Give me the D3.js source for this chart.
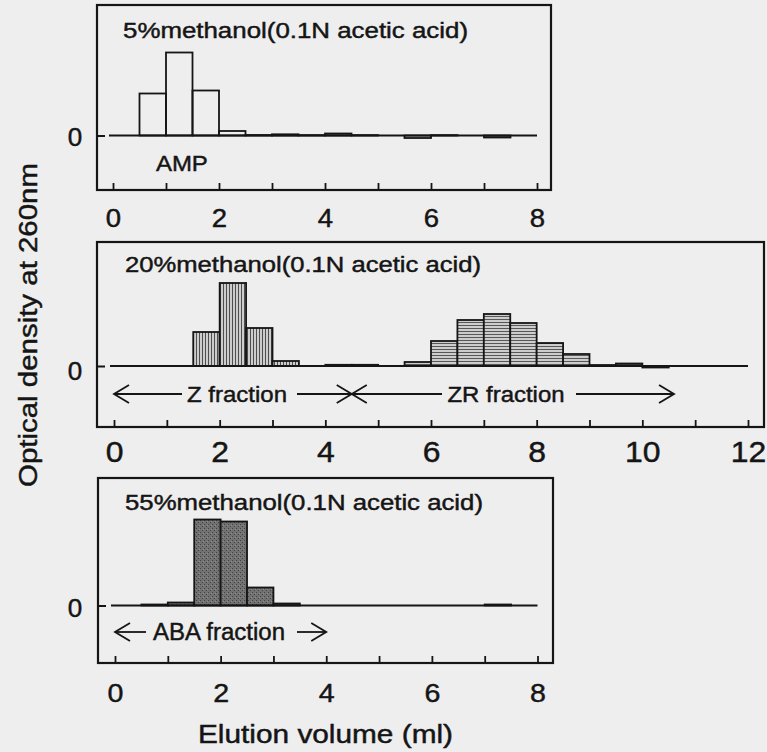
<!DOCTYPE html>
<html>
<head>
<meta charset="utf-8">
<script src="https://cdn.jsdelivr.net/npm/d3@7"></script>
<style>
  html, body { margin: 0; padding: 0; background: #eeeeee; }
  svg { display: block; }
  text { font-family: "Liberation Sans", Arial, Helvetica, sans-serif; fill: #151515;
         stroke: #151515; stroke-width: 0.45px; }
</style>
</head>
<body>
<script>
// ---------------- DATA ----------------
// Fractions are 0.5 ml each; values are optical density at 260 nm (relative units)
const binWidth = 0.5;
const bins8  = [0, 0.5, 1, 1.5, 2, 2.5, 3, 3.5, 4, 4.5, 5, 5.5, 6, 6.5, 7, 7.5];
const bins12 = [0, 0.5, 1, 1.5, 2, 2.5, 3, 3.5, 4, 4.5, 5, 5.5, 6, 6.5, 7, 7.5,
                8, 8.5, 9, 9.5, 10, 10.5, 11, 11.5];

const methanol5Values  = [0, 0.42, 0.83, 0.45, 0.045, 0.005, 0.012, 0.004,
                          0.02, 0.004, 0, -0.025, 0.004, 0, -0.02, 0];
const methanol20Values = [0, 0, 0, 0.34, 0.83, 0.38, 0.05, 0, 0.012, 0.012, 0, 0.04,
                          0.25, 0.46, 0.52, 0.43, 0.23, 0.12, 0.01, 0.025, -0.015, 0, 0, 0];
const methanol55Values = [0, 0.01, 0.03, 0.86, 0.84, 0.18, 0.02, 0,
                          0, 0, 0, 0, 0, 0, 0.01, 0];

const ticks8  = [0, 1, 2, 3, 4, 5, 6, 7, 8];
const ticks12 = [0, 1, 2, 3, 4, 5, 6, 7, 8, 9, 10, 11, 12];

const panelTitles = ["5%methanol(0.1N acetic acid)",
                     "20%methanol(0.1N acetic acid)",
                     "55%methanol(0.1N acetic acid)"];

// fraction annotations (ml ranges)
const zFraction   = [0, 4.5];
const zrFraction  = [4.5, 10.6];
const abaFraction = [0, 4];
const ampLabelAt  = 1.3;   // ml

const xAxisTitle = "Elution volume (ml)";
const yAxisTitle = "Optical density at 260nm";

// ---------------- LAYOUT ----------------
const W = 767, H = 752;
const svg = d3.select("body").append("svg").attr("width", W).attr("height", H);
svg.append("rect").attr("width", W).attr("height", H).attr("fill", "#eeeeee");

const defs = svg.append("defs");
// vertical hatch
const pv = defs.append("pattern").attr("id", "vhatch").attr("patternUnits", "userSpaceOnUse")
  .attr("width", 3).attr("height", 3);
pv.append("rect").attr("width", 3).attr("height", 3).attr("fill", "#cdcdcd");
pv.append("rect").attr("x", 1).attr("width", 1).attr("height", 3).attr("fill", "#4e4e4e");
// horizontal hatch
const ph = defs.append("pattern").attr("id", "hhatch").attr("patternUnits", "userSpaceOnUse")
  .attr("width", 3).attr("height", 3);
ph.append("rect").attr("width", 3).attr("height", 3).attr("fill", "#cdcdcd");
ph.append("rect").attr("y", 1).attr("width", 3).attr("height", 1).attr("fill", "#575757");
// dark stipple
const ps = defs.append("pattern").attr("id", "stipple").attr("patternUnits", "userSpaceOnUse")
  .attr("width", 4).attr("height", 4);
ps.append("rect").attr("width", 4).attr("height", 4).attr("fill", "#727272");
ps.append("rect").attr("x", 0).attr("y", 0).attr("width", 1).attr("height", 1).attr("fill", "#444");
ps.append("rect").attr("x", 2).attr("y", 2).attr("width", 1).attr("height", 1).attr("fill", "#444");
ps.append("rect").attr("x", 3).attr("y", 1).attr("width", 1).attr("height", 1).attr("fill", "#8e8e8e");

const panels = [
  { bins: bins8, values: methanol5Values, ticks: ticks8, title: panelTitles[0],
    frame: { x0: 97, x1: 551, y0: 5, y1: 190 }, xr: [113, 537], xd: [0, 8], yd: [-0.545, 1.305],
    titleX: 123, titleY: 38, titleLen: 345, titleSize: 22,
    labelY: 227, labelSize: 25, zeroY: 145, fill: () => "none" },
  { bins: bins12, values: methanol20Values, ticks: ticks12, title: panelTitles[1],
    frame: { x0: 97, x1: 764, y0: 242, y1: 427 }, xr: [114, 748], xd: [0, 12], yd: [-0.61, 1.24],
    titleX: 125, titleY: 272, titleLen: 356, titleSize: 22,
    labelY: 462, labelSize: 29, zeroY: 379,
    fill: (b) => b >= 9.5 && b < 10 ? "#444" : (b < 3.5 ? "url(#vhatch)" : "url(#hhatch)") },
  { bins: bins8, values: methanol55Values, ticks: ticks8, title: panelTitles[2],
    frame: { x0: 98, x1: 553, y0: 478, y1: 663 }, xr: [115, 537.5], xd: [0, 8], yd: [-0.575, 1.275],
    titleX: 125, titleY: 510, titleLen: 358, titleSize: 22,
    labelY: 702, labelSize: 26, zeroY: 616, fill: () => "url(#stipple)" }
];

const ink = "#151515";

panels.forEach((p, pi) => {
  const x = d3.scaleLinear().domain(p.xd).range(p.xr);
  const y = d3.scaleLinear().domain(p.yd).range([p.frame.y1, p.frame.y0]);
  const g = svg.append("g");

  // bars
  g.selectAll("rect.bar").data(p.bins.map((b, i) => ({ b, v: p.values[i] })))
    .join("rect").attr("class", "bar")
    .attr("x", d => x(d.b))
    .attr("width", d => x(d.b + binWidth) - x(d.b))
    .attr("y", d => Math.min(y(d.v), y(0)))
    .attr("height", d => Math.abs(y(d.v) - y(0)))
    .attr("fill", d => p.fill(d.b))
    .attr("stroke", ink).attr("stroke-width", 1.8);

  // baseline
  g.append("line").attr("x1", x(0) - 4).attr("x2", x(p.xd[1]))
    .attr("y1", y(0)).attr("y2", y(0)).attr("stroke", ink).attr("stroke-width", 2);

  // frame
  g.append("rect").attr("x", p.frame.x0).attr("y", p.frame.y0)
    .attr("width", p.frame.x1 - p.frame.x0).attr("height", p.frame.y1 - p.frame.y0)
    .attr("fill", "none").attr("stroke", ink).attr("stroke-width", 2.2);

  // x axis (inward ticks)
  const xa = g.append("g").attr("transform", `translate(0,${p.frame.y1})`)
    .call(d3.axisBottom(x).tickValues(p.ticks).tickSizeInner(-7).tickSizeOuter(0)
      .tickFormat(d => d % 2 === 0 ? String(d) : ""));
  xa.select(".domain").remove();
  xa.selectAll(".tick line").attr("stroke", ink).attr("stroke-width", 1.8);
  xa.selectAll(".tick text").attr("y", p.labelY - p.frame.y1).attr("dy", 0)
    .attr("font-size", p.labelSize).attr("fill", ink)
    .attr("font-family", "'Liberation Sans', Arial, sans-serif")
    .style("transform", "scaleX(1.1)");

  // y axis (only zero)
  const ya = g.append("g").attr("transform", `translate(${p.frame.x0},0)`)
    .call(d3.axisLeft(y).tickValues([0]).tickSizeInner(-8).tickSizeOuter(0).tickFormat(d3.format("d")));
  ya.select(".domain").remove();
  ya.selectAll(".tick line").attr("stroke", ink).attr("stroke-width", 2);
  ya.selectAll(".tick text").attr("x", 75 - p.frame.x0).attr("dy", 0)
    .attr("y", p.zeroY - y(0)).attr("text-anchor", "middle")
    .attr("font-size", 26).attr("fill", ink)
    .attr("font-family", "'Liberation Sans', Arial, sans-serif");

  // title
  g.append("text").attr("x", p.titleX).attr("y", p.titleY)
    .attr("font-size", p.titleSize).attr("textLength", p.titleLen)
    .attr("lengthAdjust", "spacingAndGlyphs").text(p.title);

  // annotations
  const arrowY = pi === 1 ? 394 : 632;
  const line = (x1, x2) => g.append("line").attr("x1", x1).attr("x2", x2)
    .attr("y1", arrowY).attr("y2", arrowY).attr("stroke", ink).attr("stroke-width", 1.8);
  const head = (xp, dir) => {
    g.append("path").attr("d", `M${xp - dir * 15},${arrowY - 9} L${xp},${arrowY} L${xp - dir * 15},${arrowY + 9}`)
      .attr("fill", "none").attr("stroke", ink).attr("stroke-width", 1.8);
  };
  const label = (cx, txt, len, size) => g.append("text").attr("x", cx).attr("y", arrowY + 8)
    .attr("text-anchor", "middle").attr("font-size", size).attr("textLength", len)
    .attr("lengthAdjust", "spacingAndGlyphs").text(txt);

  if (pi === 0) {
    g.append("text").attr("x", x(ampLabelAt)).attr("y", 171).attr("text-anchor", "middle")
      .attr("font-size", 22).attr("textLength", 52).attr("lengthAdjust", "spacingAndGlyphs").text("AMP");
  }
  if (pi === 1) {
    const zl = x(zFraction[0]), zr = x(zFraction[1]), zt = 237;
    line(zl, zt - 55); line(zt + 60, zr); head(zl, -1); head(zr, 1);
    label(zt, "Z fraction", 100, 22);
    const rl = x(zrFraction[0]), rr = x(zrFraction[1]), rt = 506;
    line(rl, rt - 64); line(rt + 70, rr); head(rl, -1); head(rr, 1);
    label(rt, "ZR fraction", 117, 22);
  }
  if (pi === 2) {
    const al = x(abaFraction[0]), ar = x(abaFraction[1]), at = 219;
    line(al, at - 73); line(at + 78, ar); head(al, -1); head(ar, 1);
    label(at, "ABA fraction", 132, 23);
  }
});

// axis titles
svg.append("text").attr("x", 325.5).attr("y", 743).attr("text-anchor", "middle")
  .attr("font-size", 25).attr("textLength", 255).attr("lengthAdjust", "spacingAndGlyphs").text(xAxisTitle);
svg.append("text").attr("transform", "translate(37,325) rotate(-90)").attr("text-anchor", "middle")
  .attr("font-size", 26).attr("textLength", 324).attr("lengthAdjust", "spacingAndGlyphs").text(yAxisTitle);
</script>
</body>
</html>
